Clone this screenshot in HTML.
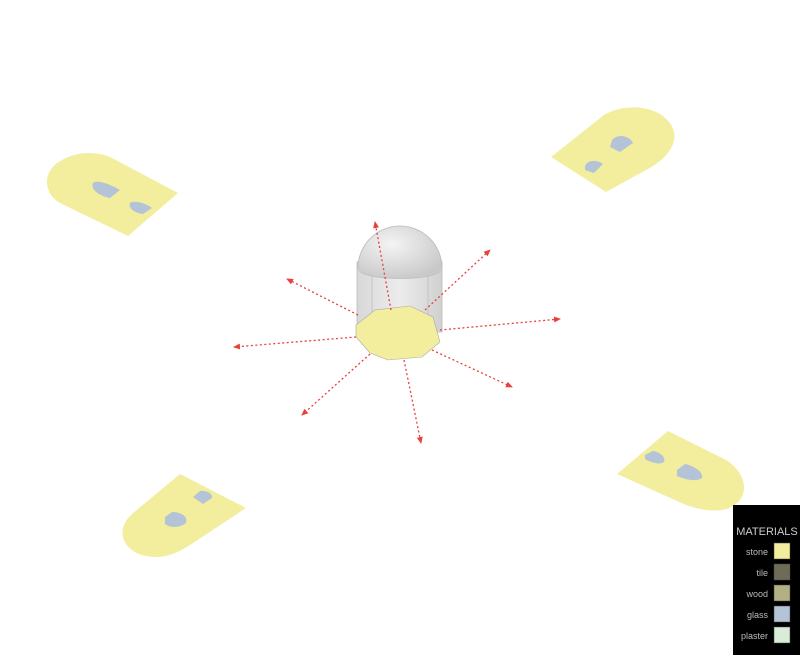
<!DOCTYPE html>
<html><head><style>html,body{margin:0;padding:0;background:#fff;}svg{display:block}</style></head>
<body>
<svg width="800" height="655" viewBox="0 0 800 655" xmlns="http://www.w3.org/2000/svg">
<defs>
<marker id="ah" markerWidth="8" markerHeight="8" refX="6" refY="3" orient="auto" markerUnits="userSpaceOnUse"><path d="M0,0 L7,3 L0,6 Z" fill="#e8403a"/></marker>
<radialGradient id="dome" cx="0.4" cy="0.35" r="0.7"><stop offset="0" stop-color="#f4f4f4"/><stop offset="1" stop-color="#c8c8c8"/></radialGradient>
<linearGradient id="cyl" x1="0" x2="1"><stop offset="0" stop-color="#d8d8d8"/><stop offset="0.5" stop-color="#ececec"/><stop offset="1" stop-color="#d0d0d0"/></linearGradient>
</defs>
<g fill="#f2ee9e">
<path d="M178,193 L128,236 L62,204 C42,194 42,170 62,160 C80,150 100,152 112,158 Z"/>
<path d="M551,157 L604,115 C630,100 668,108 674,132 C677,148 662,162 646,170 L606,192 Z"/>
<path d="M617,474 L668,431 L718,456 C752,470 752,505 722,510 C707,512 696,508 686,505 Z"/>
<path d="M246,508 L180,474 L132,514 C112,532 125,558 158,557 C172,556 182,550 190,545 Z"/>
</g>
<g fill="#b5c3d6">
<path d="M93,183 C95,180 106,182 120,190 L110,198 C100,196 90,190 93,183 Z"/>
<path d="M130,203 C134,200 145,203 152,208 L143,214 C134,213 128,208 130,203 Z"/>
<path d="M612,140 C618,133 630,136 633,143 L620,152 L610,147 Z"/>
<path d="M585,166 C588,159 598,160 603,164 L594,173 L585,170 Z"/>
<path d="M645,455 L653,451 C660,452 666,457 664,462 C660,465 652,463 645,459 Z"/>
<path d="M677,470 L685,464 C695,466 704,473 702,478 C697,482 686,480 677,476 Z"/>
<path d="M193,497 L200,491 C207,490 213,494 212,498 L203,504 Z"/>
<path d="M165,517 L172,512 C182,512 188,517 186,523 C180,528 170,528 165,524 Z"/>
</g>
<rect x="357" y="262" width="85" height="70" fill="url(#cyl)" stroke="#bbb" stroke-width="0.8"/>
<line x1="372" y1="270" x2="372" y2="320" stroke="#c4c4c4"/>
<line x1="428" y1="270" x2="428" y2="320" stroke="#c4c4c4"/>
<path d="M358,268 A42,42 0 0 1 442,268 C442,282 358,282 358,268 Z" fill="url(#dome)" stroke="#bbb" stroke-width="0.8"/>
<path d="M358,268 C360,280 440,280 442,268" fill="none" stroke="#ccc"/>
<polygon points="356,325 375,310 410,306 433,317 440,342 422,357 388,360 370,353 356,337" fill="#f2ee9e" stroke="#aaa" stroke-width="0.6"/>
<g stroke="#e8403a" stroke-width="1.3" stroke-dasharray="2,2.5" fill="none" marker-end="url(#ah)">
<line x1="391" y1="310" x2="375" y2="222"/>
<line x1="425" y1="310" x2="490" y2="250"/>
<line x1="440" y1="330" x2="560" y2="319"/>
<line x1="432" y1="350" x2="512" y2="387"/>
<line x1="404" y1="360" x2="421" y2="443"/>
<line x1="370" y1="354" x2="302" y2="415"/>
<line x1="356" y1="337" x2="234" y2="347"/>
<line x1="358" y1="315" x2="287" y2="279"/>
</g>
<rect x="733" y="505" width="67" height="150" fill="#000"/>
<text x="767" y="535" font-family="Liberation Sans, sans-serif" font-size="11" fill="#ccc" text-anchor="middle">MATERIALS</text>
<g font-family="Liberation Sans, sans-serif" font-size="9" fill="#bbb" text-anchor="end">
<text x="768" y="555">stone</text><text x="768" y="576">tile</text><text x="768" y="597">wood</text><text x="768" y="618">glass</text><text x="768" y="639">plaster</text>
</g>
<g stroke="#444" stroke-width="0.5">
<rect x="774" y="543" width="16" height="16" fill="#f2ee9e"/>
<rect x="774" y="564" width="16" height="16" fill="#6e6c58"/>
<rect x="774" y="585" width="16" height="16" fill="#b3b184"/>
<rect x="774" y="606" width="16" height="16" fill="#b5c3d6"/>
<rect x="774" y="627" width="16" height="16" fill="#d8ecd8"/>
</g>
</svg>
</body></html>
